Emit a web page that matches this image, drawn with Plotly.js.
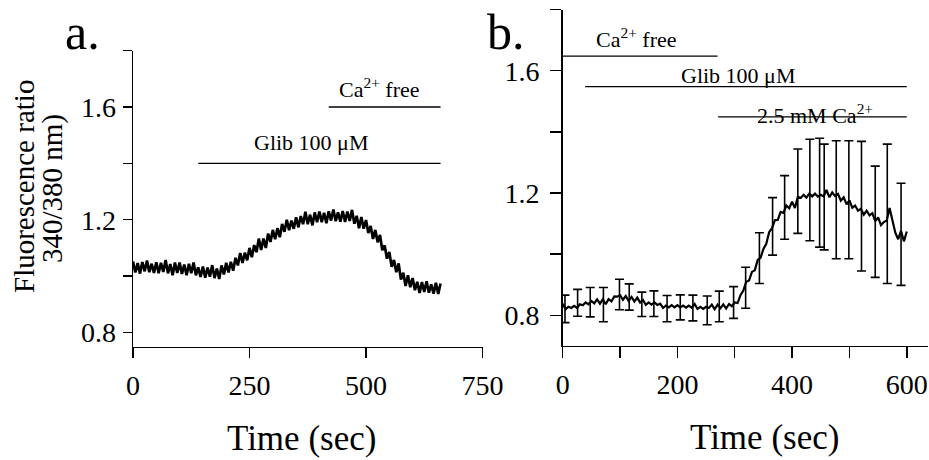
<!DOCTYPE html>
<html><head><meta charset="utf-8">
<script src="https://cdn.plot.ly/plotly-3.0.1.min.js"></script>
<style>html,body{margin:0;padding:0;background:#fff}#chart{width:929px;height:460px}</style>
</head><body><div id="chart"></div>
<script>
// ---------- Panel a: single-cell trace, one sample every 5 s from t = 0 ----------
const stepA = 5;
const ratioA = [
1.052,1.013,1.046,1.009,1.050,1.017,1.055,1.014,1.044,1.011,
1.049,1.010,1.047,1.015,1.057,1.010,1.043,1.003,1.048,1.011,
1.048,1.008,1.041,1.003,1.044,1.010,1.048,1.003,1.031,0.997,
1.034,0.994,1.030,0.998,1.039,0.993,1.027,0.990,1.038,1.006,
1.047,1.013,1.051,1.019,1.065,1.038,1.082,1.047,1.083,1.056,
1.100,1.067,1.110,1.085,1.133,1.093,1.133,1.100,1.151,1.121,
1.164,1.131,1.170,1.138,1.185,1.157,1.200,1.163,1.197,1.168,
1.209,1.173,1.213,1.184,1.228,1.184,1.218,1.180,1.226,1.191,
1.229,1.191,1.225,1.188,1.230,1.197,1.236,1.195,1.226,1.193,
1.231,1.192,1.229,1.196,1.235,1.186,1.214,1.170,1.210,1.168,
1.199,1.153,1.178,1.132,1.164,1.120,1.146,1.092,1.109,1.062,
1.086,1.033,1.057,1.014,1.045,0.988,1.012,0.965,1.003,0.961,
0.993,0.950,0.980,0.940,0.979,0.944,0.982,0.941,0.971,0.938,
0.976,0.937,0.974
];
const xTicksA = [0, 250, 500, 750];
const yTicksA = [0.8, 1.0, 1.2, 1.4, 1.6, 1.8];
const yTickTextA = ['0.8', '', '1.2', '', '1.6', ''];
const glibA = {t: [140, 660], v: [1.4, 1.4]};
const caFreeA = {t: [420, 660], v: [1.6, 1.6]};

// ---------- Panel b: mean trace, one sample every 5 s from t = 0 ----------
const stepB = 5;
const ratioB = [
0.838,0.820,0.828,0.824,0.831,0.824,0.836,0.833,0.842,0.836,
0.847,0.839,0.852,0.838,0.852,0.836,0.853,0.846,0.862,0.861,
0.866,0.851,0.863,0.847,0.860,0.845,0.858,0.842,0.850,0.834,
0.842,0.835,0.842,0.834,0.838,0.824,0.832,0.826,0.833,0.826,
0.833,0.826,0.832,0.825,0.832,0.825,0.837,0.821,0.828,0.821,
0.828,0.824,0.835,0.820,0.835,0.823,0.836,0.822,0.837,0.830,
0.842,0.840,0.866,0.881,0.910,0.914,0.942,0.947,0.981,0.988,
1.017,1.034,1.072,1.085,1.111,1.112,1.138,1.135,1.159,1.150,
1.172,1.151,1.188,1.184,1.194,1.185,1.198,1.189,1.198,1.188,
1.194,1.189,1.210,1.186,1.202,1.190,1.197,1.175,1.186,1.163,
1.176,1.152,1.159,1.142,1.148,1.129,1.142,1.127,1.134,1.108,
1.120,1.095,1.105,1.110,1.151,1.110,1.070,1.049,1.076,1.042,
1.074
];
// error bars (SEM) of panel b
const errTimesB = [4,26,48,71,99,116,138,159,182,205,227,252,273,298,319,343,366,387,410,431,448,456,477,499,521,545,566,590];
const errMeanB  = [0.821,0.841,0.843,0.835,0.868,0.860,0.836,0.838,0.822,0.826,0.824,0.816,0.829,0.842,0.890,0.987,1.091,1.153,1.206,1.210,1.201,1.187,1.178,1.178,1.157,1.106,1.132,1.065];
const errHalfB  = [0.045,0.044,0.048,0.056,0.050,0.043,0.040,0.042,0.043,0.041,0.042,0.047,0.050,0.052,0.067,0.083,0.094,0.104,0.138,0.166,0.178,0.173,0.193,0.193,0.212,0.182,0.228,0.167];
const xTicksB = [0, 100, 200, 300, 400, 500, 600];
const xTickTextB = ['0', '', '200', '', '400', '', '600'];
const yTicksB = [0.8, 1.0, 1.2, 1.4, 1.6, 1.8];
const yTickTextB = ['0.8', '', '1.2', '', '1.6', ''];
const caFreeB = {t: [0, 270], v: [1.648, 1.648]};
const glibB = {t: [39, 600], v: [1.548, 1.548]};
const caBackB = {t: [271, 600], v: [1.449, 1.449]};

// ---------- figure ----------
const W = 929, H = 460;
const FONT = 'Liberation Serif, Times New Roman, serif';
const px = v => v / W;
const py = v => 1 - v / H;

function seg(s, xa, ya) {
  return {type: 'scatter', mode: 'lines', x: s.t, y: s.v, xaxis: xa, yaxis: ya,
          line: {color: '#000', width: 1.3}, hoverinfo: 'skip'};
}

const traces = [
  {type: 'scatter', mode: 'lines', x0: 0, dx: stepA, y: ratioA, xaxis: 'x', yaxis: 'y',
   line: {color: '#000', width: 2.7}},
  seg(glibA, 'x', 'y'),
  seg(caFreeA, 'x', 'y'),
  {type: 'scatter', mode: 'lines', x0: 0, dx: stepB, y: ratioB, xaxis: 'x2', yaxis: 'y2',
   line: {color: '#000', width: 2.2}},
  {type: 'scatter', mode: 'markers', x: errTimesB, y: errMeanB, xaxis: 'x2', yaxis: 'y2',
   marker: {size: 1, color: 'rgba(0,0,0,0)'},
   error_y: {type: 'data', array: errHalfB, visible: true, color: '#000', thickness: 1.6, width: 4.5}},
  seg(caFreeB, 'x2', 'y2'),
  seg(glibB, 'x2', 'y2'),
  seg(caBackB, 'x2', 'y2')
];

const axisCommon = {
  showline: true, linecolor: '#000', linewidth: 1.5, mirror: false,
  ticks: 'outside', tickcolor: '#000', tickwidth: 1.5,
  showgrid: false, zeroline: false, fixedrange: true,
  tickfont: {family: FONT, size: 28, color: '#000'}
};

const layout = {
  width: W, height: H,
  margin: {l: 0, r: 0, t: 0, b: 0},
  paper_bgcolor: '#fff', plot_bgcolor: 'rgba(0,0,0,0)',
  showlegend: false,
  font: {family: FONT, color: '#000'},
  xaxis: Object.assign({}, axisCommon, {
    domain: [px(133), px(482.5)], range: [0, 750], anchor: 'y',
    tickmode: 'array', tickvals: xTicksA, ticklen: 10, ticklabelstandoff: 3
  }),
  yaxis: Object.assign({}, axisCommon, {
    domain: [py(346.6), py(50.6)], range: [0.75, 1.8], anchor: 'x',
    tickmode: 'array', tickvals: yTicksA, ticktext: yTickTextA, ticklen: 9, ticklabelstandoff: 1
  }),
  xaxis2: Object.assign({}, axisCommon, {
    domain: [px(562.7), px(928)], range: [0, 637], anchor: 'y2',
    tickmode: 'array', tickvals: xTicksB, ticktext: xTickTextB, ticklen: 11, ticklabelstandoff: 2
  }),
  yaxis2: Object.assign({}, axisCommon, {
    domain: [py(345.9), py(9.55)], range: [0.7, 1.8], anchor: 'x2',
    tickmode: 'array', tickvals: yTicksB, ticktext: yTickTextB, ticklen: 11, ticklabelstandoff: 5
  }),
  annotations: [
    {text: 'a.', xref: 'paper', yref: 'paper', x: px(82), y: py(32), showarrow: false,
     xanchor: 'center', yanchor: 'middle', font: {family: FONT, size: 50}},
    {text: 'b.', xref: 'paper', yref: 'paper', x: px(506), y: py(32), showarrow: false,
     xanchor: 'center', yanchor: 'middle', font: {family: FONT, size: 50}},
    {text: 'Time (sec)', xref: 'paper', yref: 'paper', x: px(301.5), y: py(438), showarrow: false,
     xanchor: 'center', yanchor: 'middle', font: {family: FONT, size: 35}},
    {text: 'Time (sec)', xref: 'paper', yref: 'paper', x: px(764), y: py(437), showarrow: false,
     xanchor: 'center', yanchor: 'middle', font: {family: FONT, size: 35}},
    {text: 'Fluorescence ratio', xref: 'paper', yref: 'paper', x: px(24), y: py(187), showarrow: false,
     textangle: -90, xanchor: 'center', yanchor: 'middle', font: {family: FONT, size: 29}},
    {text: '340/380 nm)', xref: 'paper', yref: 'paper', x: px(53), y: py(189), showarrow: false,
     textangle: -90, xanchor: 'center', yanchor: 'middle', font: {family: FONT, size: 29}},
    {text: 'Ca<sup>2+</sup> free', xref: 'x', yref: 'y', x: 530, y: 1.666, showarrow: false,
     xanchor: 'center', yanchor: 'middle', font: {family: FONT, size: 22}},
    {text: 'Glib 100 μM', xref: 'x', yref: 'y', x: 383, y: 1.474, showarrow: false,
     xanchor: 'center', yanchor: 'middle', font: {family: FONT, size: 22}},
    {text: 'Ca<sup>2+</sup> free', xref: 'x2', yref: 'y2', x: 128.7, y: 1.706, showarrow: false,
     xanchor: 'center', yanchor: 'middle', font: {family: FONT, size: 22}},
    {text: 'Glib 100 μM', xref: 'x2', yref: 'y2', x: 305.8, y: 1.585, showarrow: false,
     xanchor: 'center', yanchor: 'middle', font: {family: FONT, size: 22}},
    {text: '2.5 mM Ca<sup>2+</sup>', xref: 'x2', yref: 'y2', x: 440, y: 1.458, showarrow: false,
     xanchor: 'center', yanchor: 'middle', font: {family: FONT, size: 22}}
  ]
};

Plotly.newPlot('chart', traces, layout, {displayModeBar: false, staticPlot: true});
</script>
</body></html>
